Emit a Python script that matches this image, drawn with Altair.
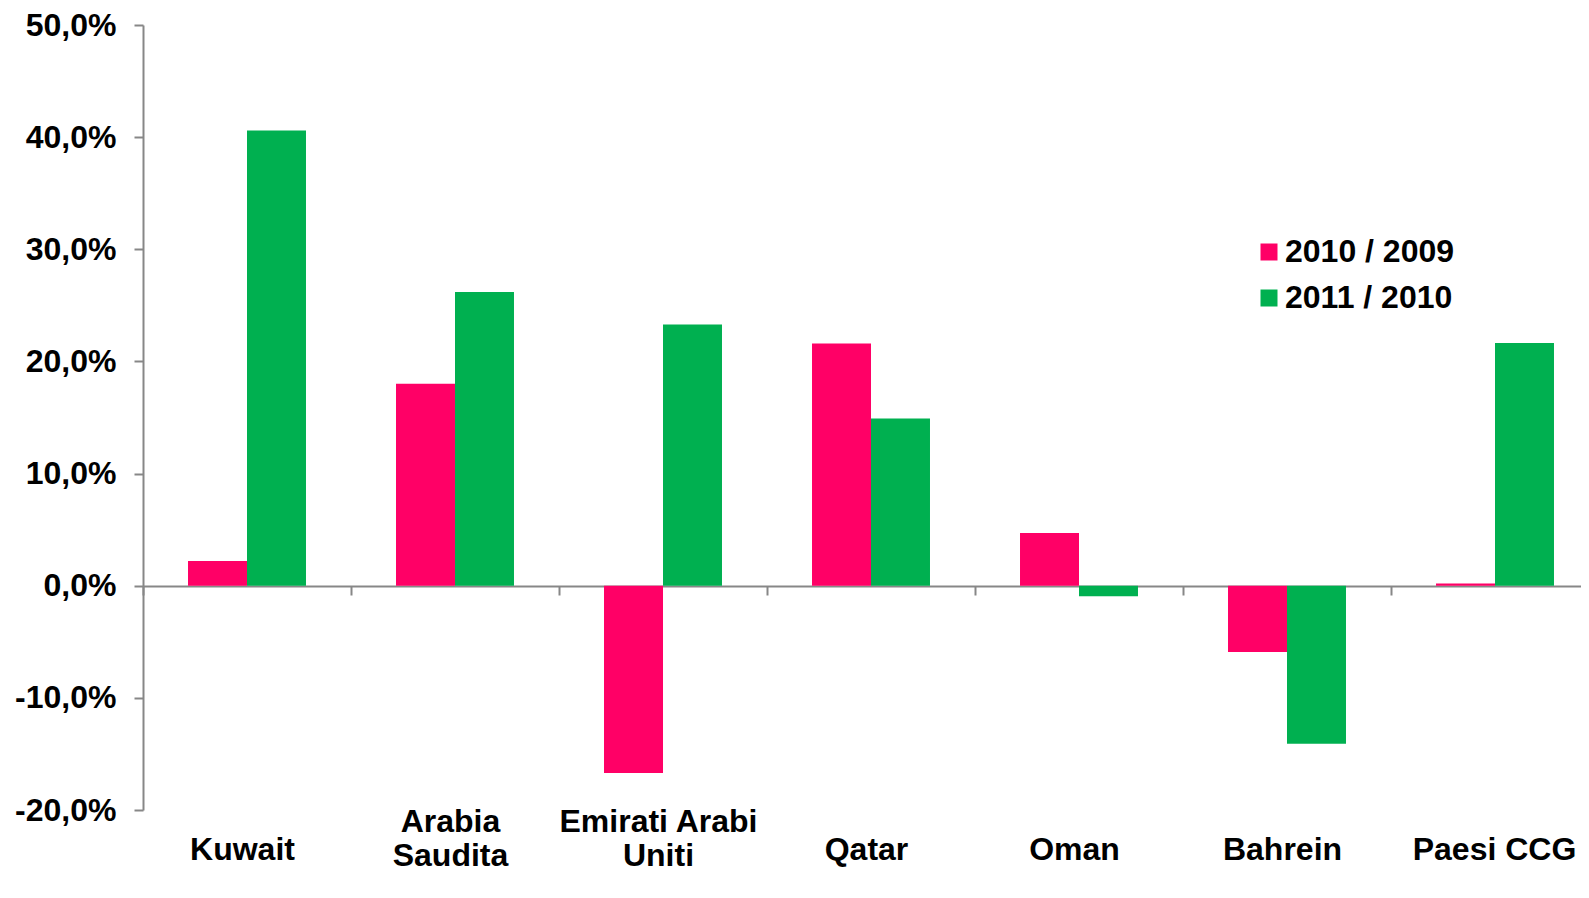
import altair as alt
import pandas as pd

categories = ["Kuwait", "Arabia Saudita", "Emirati Arabi Uniti", "Qatar", "Oman", "Bahrein", "Paesi CCG"]
series = ["2010 / 2009", "2011 / 2010"]
v_2010_2009 = [2.2, 18.0, -16.7, 21.6, 4.7, -5.9, 0.2]
v_2011_2010 = [40.6, 26.2, 23.3, 14.9, -0.95, -14.1, 21.65]
colors = ["#FF0066", "#00B050"]
y_ticks = [-0.2, -0.1, 0.0, 0.1, 0.2, 0.3, 0.4, 0.5]
label_lines = {"Arabia Saudita": ["Arabia", "Saudita"], "Emirati Arabi Uniti": ["Emirati Arabi", "Uniti"]}

rows = []
for i, c in enumerate(categories):
    rows.append({"cat": c, "series": series[0], "v": v_2010_2009[i] / 100})
    rows.append({"cat": c, "series": series[1], "v": v_2011_2010[i] / 100})
df = pd.DataFrame(rows)

expr = "datum.label"
for k, lines in label_lines.items():
    arr = "[" + ",".join("'%s'" % s for s in lines) + "]"
    expr = "datum.label == '%s' ? %s : (%s)" % (k, arr, expr)
multi_test = "indexof([" + ",".join("'%s'" % k for k in label_lines) + "], datum.value) >= 0"

FONT = "Liberation Sans"
GRAY = "#878787"

chart = alt.Chart(df).mark_bar().encode(
    x=alt.X(
        "cat:N",
        sort=categories,
        scale=alt.Scale(domain=categories, paddingInner=0, paddingOuter=0),
        axis=alt.Axis(
            orient="bottom", offset=-224, title=None, labelAngle=0,
            domainColor=GRAY, domainWidth=2, tickColor=GRAY, tickWidth=2, tickSize=9,
            tickBand="extent",
            labelPadding={"condition": {"test": multi_test, "value": 211}, "value": 239},
            labelOffset={"condition": {"test": "datum.value == 'Paesi CCG'", "value": -1}, "value": -5},
            labelFont=FONT, labelFontSize=32,
            labelFontWeight="bold", labelColor="black", labelExpr=expr,
            labelLineHeight=34, labelBaseline="top", labelOverlap=False, labelLimit=0,
        ),
    ),
    xOffset=alt.XOffset(
        "series:N", sort=series,
        scale=alt.Scale(domain=series, paddingInner=0, paddingOuter=0.763),
    ),
    y=alt.Y(
        "v:Q",
        scale=alt.Scale(domain=[-0.2, 0.5], nice=False),
        axis=alt.Axis(
            values=y_ticks, title=None, grid=False,
            labelExpr="replace(replace(format(datum.value, '.1%'), '.', ','), '\u2212', '-')",
            domainColor=GRAY, domainWidth=2, tickColor=GRAY, tickWidth=2, tickSize=9,
            labelPadding=18, labelFont=FONT, labelFontSize=32, labelFontWeight="bold",
            labelColor="black",
        ),
    ),
    color=alt.Color(
        "series:N",
        scale=alt.Scale(domain=series, range=colors),
        legend=alt.Legend(
            orient="none", legendX=1110, legendY=211, title=None,
            symbolType="square", symbolSize=289, symbolStrokeWidth=0, symbolOpacity=1,
            labelFont=FONT, labelFontSize=32, labelFontWeight="bold", labelColor="black",
            labelOffset=0, rowPadding=14, labelLimit=0,
        ),
    ),
).properties(
    width=1456,
    height=785,
    autosize=alt.AutoSizeParams(type="none"),
    padding={"left": 135, "top": 17, "right": -18, "bottom": 64},
).configure(font=FONT).configure_view(stroke=None)

chart.save("out.html", embed_options={"renderer": "svg", "actions": False})
